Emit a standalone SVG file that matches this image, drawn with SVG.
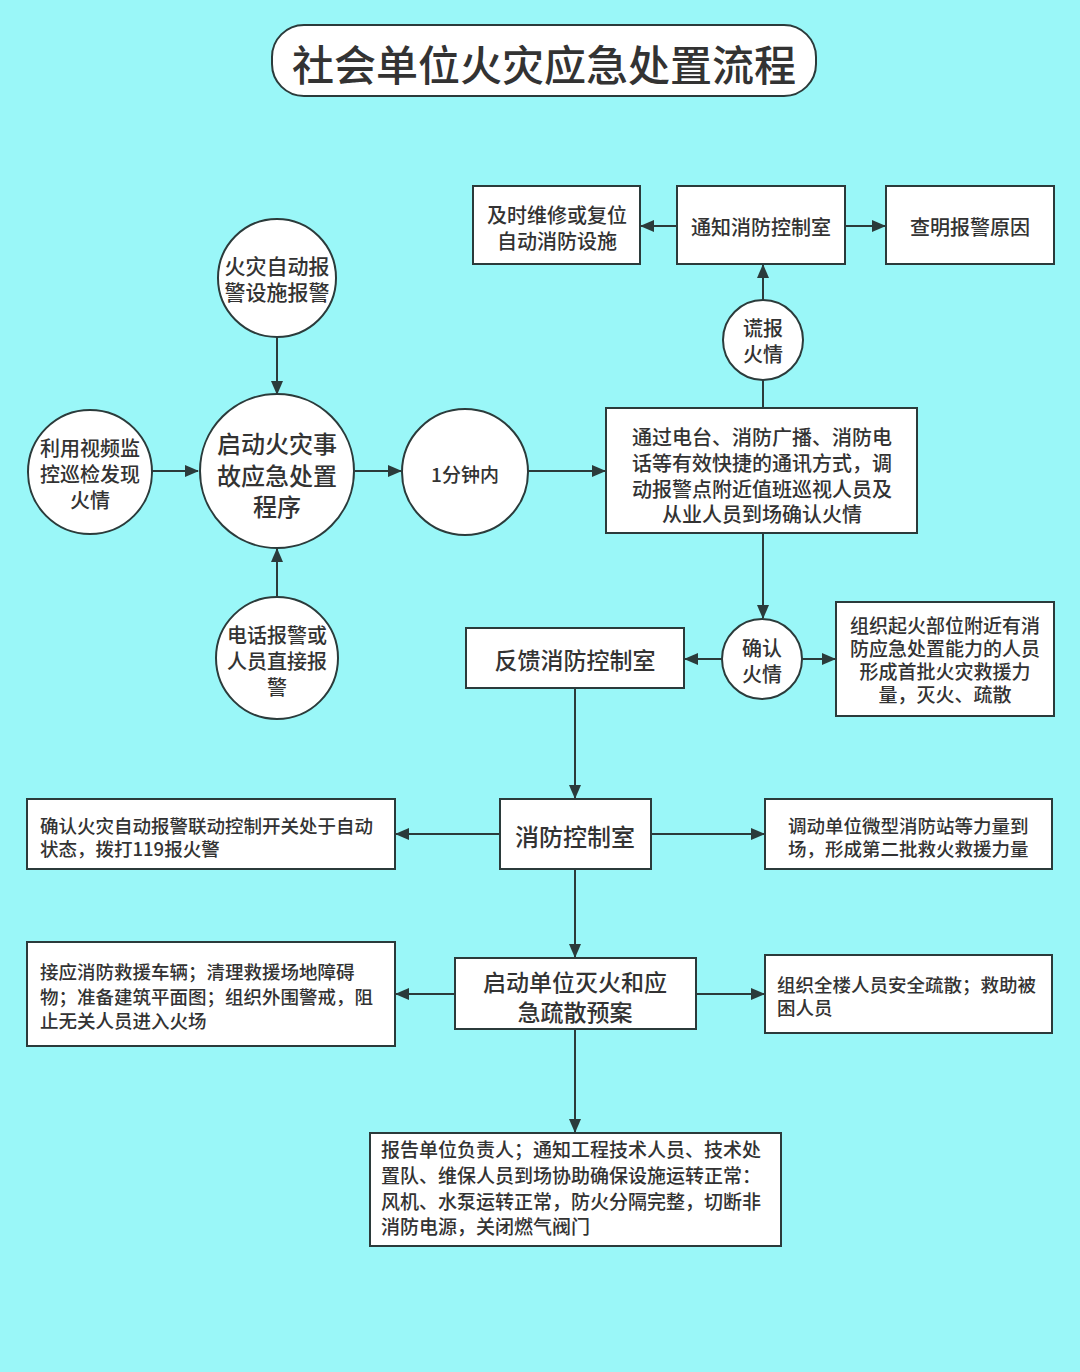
<svg xmlns="http://www.w3.org/2000/svg" width="1080" height="1372" viewBox="0 0 1080 1372">
<style>
.bg{fill:#9af7f8}
.n{fill:#fff;stroke:#2b3b3b;stroke-width:2}
.t{font-family:"Noto Sans CJK SC","Liberation Sans",sans-serif;fill:#333;font-weight:500;text-anchor:middle;dominant-baseline:central}
.l{text-anchor:start}
.c{stroke:#2b3b3b;stroke-width:2;fill:none}
</style>
<defs>
<marker id="ah" markerUnits="userSpaceOnUse" markerWidth="14" markerHeight="12" refX="13" refY="6" orient="auto">
<path d="M0,0 L14,6 L0,12 z" fill="#2b3b3b"/>
</marker>
</defs>
<rect class="bg" x="0" y="0" width="1080" height="1372"/>
<g id="title">
<rect class="n" x="272" y="25" width="544" height="71" rx="32"/>
<text class="t" x="544" y="62" font-size="42">社会单位火灾应急处置流程</text>
</g>
<g id="connectors">
<line class="c" x1="677" y1="226" x2="641" y2="226" marker-end="url(#ah)"/>
<line class="c" x1="845" y1="226" x2="885" y2="226" marker-end="url(#ah)"/>
<line class="c" x1="763" y1="300" x2="763" y2="265" marker-end="url(#ah)"/>
<line class="c" x1="763" y1="408" x2="763" y2="380"/>
<line class="c" x1="277" y1="337" x2="277" y2="394" marker-end="url(#ah)"/>
<line class="c" x1="143" y1="471" x2="198" y2="471" marker-end="url(#ah)"/>
<line class="c" x1="277" y1="598" x2="277" y2="549" marker-end="url(#ah)"/>
<line class="c" x1="355" y1="471" x2="401" y2="471" marker-end="url(#ah)"/>
<line class="c" x1="528" y1="471" x2="605" y2="471" marker-end="url(#ah)"/>
<line class="c" x1="763" y1="533" x2="763" y2="618" marker-end="url(#ah)"/>
<line class="c" x1="722" y1="659" x2="685" y2="659" marker-end="url(#ah)"/>
<line class="c" x1="802" y1="659" x2="835" y2="659" marker-end="url(#ah)"/>
<line class="c" x1="575" y1="688" x2="575" y2="798" marker-end="url(#ah)"/>
<line class="c" x1="500" y1="834" x2="396" y2="834" marker-end="url(#ah)"/>
<line class="c" x1="651" y1="834" x2="764" y2="834" marker-end="url(#ah)"/>
<line class="c" x1="575" y1="869" x2="575" y2="957" marker-end="url(#ah)"/>
<line class="c" x1="455" y1="994" x2="396" y2="994" marker-end="url(#ah)"/>
<line class="c" x1="696" y1="994" x2="764" y2="994" marker-end="url(#ah)"/>
<line class="c" x1="575" y1="1029" x2="575" y2="1132" marker-end="url(#ah)"/>
</g>
<g id="repair">
<rect class="n" x="473" y="186" width="167" height="78"/>
<text class="t" font-size="20"><tspan x="557" y="214">及时维修或复位</tspan><tspan x="557" y="240">自动消防设施</tspan></text>
</g>
<g id="notify">
<rect class="n" x="677" y="186" width="168" height="78"/>
<text class="t" x="761" y="226" font-size="20">通知消防控制室</text>
</g>
<g id="cause">
<rect class="n" x="886" y="186" width="168" height="78"/>
<text class="t" x="970" y="226" font-size="20">查明报警原因</text>
</g>
<g id="false-alarm">
<circle class="n" cx="763" cy="340" r="40"/>
<text class="t" font-size="20"><tspan x="763" y="327">谎报</tspan><tspan x="763" y="353">火情</tspan></text>
</g>
<g id="auto-alarm">
<circle class="n" cx="277" cy="278" r="59"/>
<text class="t" font-size="21"><tspan x="277" y="265">火灾自动报</tspan><tspan x="277" y="291">警设施报警</tspan></text>
</g>
<g id="start">
<circle class="n" cx="277" cy="471" r="77"/>
<text class="t" font-size="24"><tspan x="277" y="442">启动火灾事</tspan><tspan x="277" y="474">故应急处置</tspan><tspan x="277" y="505">程序</tspan></text>
</g>
<g id="video">
<circle class="n" cx="90" cy="472" r="62"/>
<text class="t" font-size="20"><tspan x="90" y="447">利用视频监</tspan><tspan x="90" y="473">控巡检发现</tspan><tspan x="90" y="499">火情</tspan></text>
</g>
<g id="phone">
<circle class="n" cx="277" cy="658" r="61"/>
<text class="t" font-size="20"><tspan x="277" y="634">电话报警或</tspan><tspan x="277" y="660">人员直接报</tspan><tspan x="277" y="686">警</tspan></text>
</g>
<g id="one-minute">
<circle class="n" cx="465" cy="472" r="63"/>
<text class="t" x="465" y="473" font-size="19">1分钟内</text>
</g>
<g id="dispatch">
<rect class="n" x="606" y="408" width="311" height="125"/>
<text class="t" font-size="20"><tspan x="762" y="436">通过电台、消防广播、消防电</tspan><tspan x="762" y="462">话等有效快捷的通讯方式，调</tspan><tspan x="762" y="488">动报警点附近值班巡视人员及</tspan><tspan x="762" y="513">从业人员到场确认火情</tspan></text>
</g>
<g id="confirm">
<circle class="n" cx="762" cy="659" r="40"/>
<text class="t" font-size="20"><tspan x="762" y="647">确认</tspan><tspan x="762" y="673">火情</tspan></text>
</g>
<g id="feedback">
<rect class="n" x="466" y="628" width="218" height="60"/>
<text class="t" x="575" y="659" font-size="23">反馈消防控制室</text>
</g>
<g id="first-force">
<rect class="n" x="836" y="602" width="218" height="114"/>
<text class="t" font-size="19"><tspan x="945" y="624">组织起火部位附近有消</tspan><tspan x="945" y="647">防应急处置能力的人员</tspan><tspan x="945" y="670">形成首批火灾救援力</tspan><tspan x="945" y="693">量，灭火、疏散</tspan></text>
</g>
<g id="control-room">
<rect class="n" x="500" y="799" width="151" height="70"/>
<text class="t" x="575" y="835" font-size="24">消防控制室</text>
</g>
<g id="call-119">
<rect class="n" x="27" y="799" width="368" height="70"/>
<text class="t l" font-size="18.5"><tspan x="40" y="825">确认火灾自动报警联动控制开关处于自动</tspan><tspan x="40" y="848">状态，拨打119报火警</tspan></text>
</g>
<g id="second-force">
<rect class="n" x="765" y="799" width="287" height="70"/>
<text class="t l" font-size="18.5"><tspan x="788" y="825">调动单位微型消防站等力量到</tspan><tspan x="788" y="848">场，形成第二批救火救援力量</tspan></text>
</g>
<g id="plan">
<rect class="n" x="455" y="958" width="241" height="71"/>
<text class="t" font-size="23"><tspan x="575" y="981">启动单位灭火和应</tspan><tspan x="575" y="1011">急疏散预案</tspan></text>
</g>
<g id="receive">
<rect class="n" x="27" y="942" width="368" height="104"/>
<text class="t l" font-size="18.5"><tspan x="40" y="971">接应消防救援车辆；清理救援场地障碍</tspan><tspan x="40" y="996">物；准备建筑平面图；组织外围警戒，阻</tspan><tspan x="40" y="1020">止无关人员进入火场</tspan></text>
</g>
<g id="evacuate">
<rect class="n" x="765" y="955" width="287" height="78"/>
<text class="t l" font-size="18.5"><tspan x="777" y="984">组织全楼人员安全疏散；救助被</tspan><tspan x="777" y="1007">困人员</tspan></text>
</g>
<g id="report">
<rect class="n" x="370" y="1133" width="411" height="113"/>
<text class="t l" font-size="19"><tspan x="381" y="1148">报告单位负责人；通知工程技术人员、技术处</tspan><tspan x="381" y="1174">置队、维保人员到场协助确保设施运转正常：</tspan><tspan x="381" y="1200">风机、水泵运转正常，防火分隔完整，切断非</tspan><tspan x="381" y="1225">消防电源，关闭燃气阀门</tspan></text>
</g>
</svg>
